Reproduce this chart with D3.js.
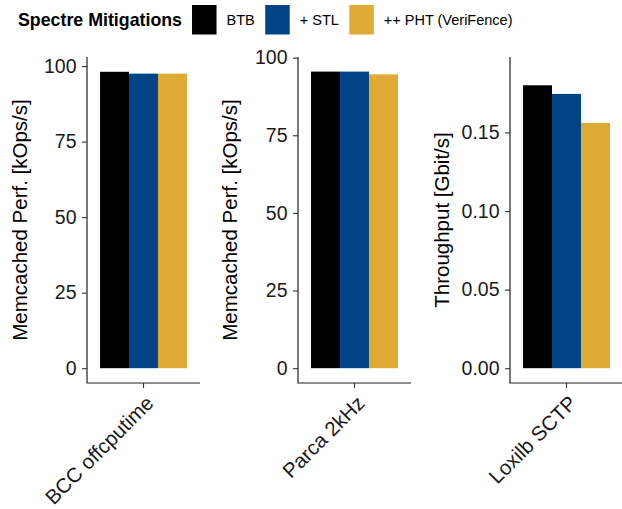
<!DOCTYPE html>
<html>
<head>
<meta charset="utf-8">
<script src="https://cdn.jsdelivr.net/npm/d3@7"></script>
<style>
  body { margin: 0; background: #fff; }
  text { font-family: "Liberation Sans", Arial, sans-serif; }
</style>
</head>
<body>
<script>
/***** Data *****/
var categories = ["BCC offcputime", "Parca 2kHz", "Loxilb SCTP"];
var series = ["BTB", "+ STL", "++ PHT (VeriFence)"];
var colors = ["#000000", "#004488", "#DDAA33"];
var btb = [98.1, 95.5, 0.180];
var stl = [97.5, 95.5, 0.1745];
var pht = [97.5, 94.6, 0.156];
var yTitles = ["Memcached Perf. [kOps/s]", "Memcached Perf. [kOps/s]", "Throughput [Gbit/s]"];
var yTicks = [[0, 25, 50, 75, 100], [0, 25, 50, 75, 100], [0, 0.05, 0.10, 0.15]];
var yFormats = ["d", "d", ".2f"];
var yMax = [103, 100.2, 0.198];

/***** Configuration *****/
var W = 622, H = 509;
var plotTop = 57, plotBottom = 383;
var panelLeft = [87, 298, 510];
var panelWidth = 113;
var titleX = [20, 230, 442];
var tickFont = 19.5, titleFont = 20.5, catFont = 20.5;

var svg = d3.select("body").append("svg")
  .attr("width", W)
  .attr("height", H);

/***** Legend *****/
var legend = svg.append("g").attr("transform", "translate(0,20)");
var lt = legend.append("text")
  .attr("x", 18)
  .attr("dy", "0.36em")
  .attr("font-size", 17.8)
  .attr("font-weight", "bold")
  .text("Spectre Mitigations");
var lx = 18 + lt.node().getComputedTextLength() + 10;
series.forEach(function (s, i) {
  legend.append("rect")
    .attr("x", lx).attr("y", -15)
    .attr("width", 24.5).attr("height", 29.5)
    .attr("fill", colors[i]);
  var t = legend.append("text")
    .attr("x", lx + 34.5)
    .attr("dy", "0.36em")
    .attr("font-size", 14.5)
    .text(s);
  lx += 34.5 + t.node().getComputedTextLength() + 10.5;
});

/***** Panels *****/
var values = [btb, stl, pht];
categories.forEach(function (cat, p) {
  var g = svg.append("g");
  var x = d3.scaleBand().domain([cat])
    .range([panelLeft[p], panelLeft[p] + panelWidth])
    .paddingInner(0).paddingOuter(0.15);
  var xs = d3.scaleBand().domain(series).range([0, x.bandwidth()]);
  var y = d3.scaleLinear()
    .domain([-0.05 / 1.05 * yMax[p], yMax[p]])
    .range([plotBottom, plotTop]);

  g.selectAll("rect.bar")
    .data(series)
    .enter().append("rect")
    .attr("class", "bar")
    .attr("x", function (s) { return x(cat) + xs(s); })
    .attr("width", xs.bandwidth())
    .attr("y", function (s, i) { return y(values[i][p]); })
    .attr("height", function (s, i) { return y(0) - y(values[i][p]); })
    .attr("fill", function (s, i) { return colors[i]; });

  var yAxis = d3.axisLeft(y).tickValues(yTicks[p])
    .tickFormat(d3.format(yFormats[p])).tickSize(5).tickPadding(5.5);
  var ya = g.append("g")
    .attr("transform", "translate(" + panelLeft[p] + ",0)")
    .call(yAxis);
  var xAxis = d3.axisBottom(x).tickSize(5).tickFormat("");
  var xa = g.append("g")
    .attr("transform", "translate(0," + plotBottom + ")")
    .call(xAxis);

  [ya, xa].forEach(function (a) {
    a.select(".domain").remove();
    a.selectAll("line").attr("stroke", "#333").attr("stroke-width", 1.1);
    a.selectAll("text").attr("fill", "#1a1a1a").attr("font-size", tickFont)
      .attr("font-family", "Liberation Sans, Arial, sans-serif");
  });
  // axis lines meeting at corner
  g.append("path")
    .attr("d", "M" + panelLeft[p] + "," + plotTop + "V" + plotBottom + "H" + (panelLeft[p] + panelWidth))
    .attr("fill", "none").attr("stroke", "#222").attr("stroke-width", 1.2);

  // rotated category label
  g.append("text")
    .attr("transform", "translate(" + (x(cat) + x.bandwidth() / 2 + 1) + "," + (plotBottom + 11) + ") rotate(-45)")
    .attr("text-anchor", "end")
    .attr("dy", "0.72em")
    .attr("font-size", catFont)
    .attr("fill", "#1a1a1a")
    .text(cat);

  // y title
  g.append("text")
    .attr("transform", "translate(" + titleX[p] + "," + ((plotTop + plotBottom) / 2) + ") rotate(-90)")
    .attr("text-anchor", "middle")
    .attr("dy", "0.36em")
    .attr("font-size", titleFont)
    .attr("fill", "#000")
    .text(yTitles[p]);
});
</script>
</body>
</html>
